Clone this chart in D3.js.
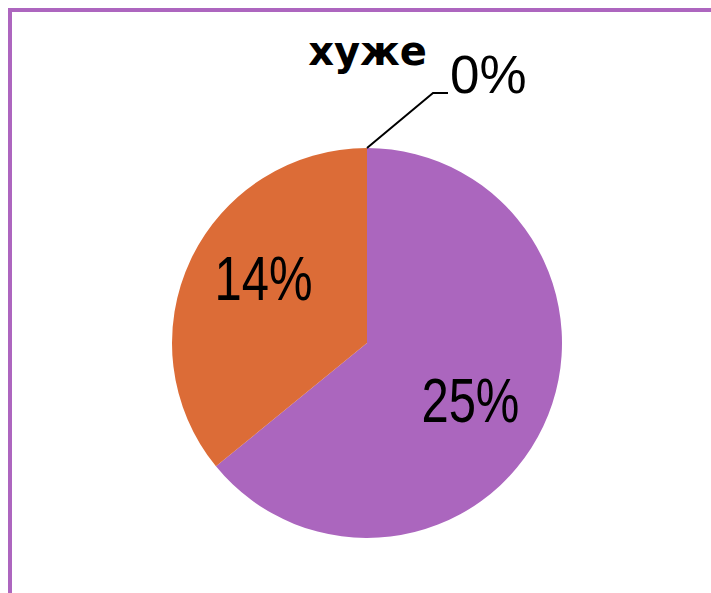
<!DOCTYPE html>
<html>
<head>
<meta charset="utf-8">
<script src="https://cdn.jsdelivr.net/npm/d3@7"></script>
<style>
  body { margin: 0; background: #fff; }
  .pct { font-family: 'Liberation Sans', sans-serif; fill: #000; }
  .cat { font-family: 'DejaVu Sans', sans-serif; font-weight: bold; fill: #000; }
</style>
</head>
<body>
<svg width="711" height="593"></svg>
<script>
// data
var categories = ['', '', 'хуже'];
var values = [25, 14, 0];
var labels = ['25%', '14%', '0%'];
var colors = ['#ab66be', '#dc6c37', '#8fb04f'];

var svg = d3.select('svg');
var width = +svg.attr('width'), height = +svg.attr('height');

// purple frame (left + top visible, rest off-canvas)
svg.append('rect')
  .attr('x', 10).attr('y', 10)
  .attr('width', width + 20).attr('height', height + 20)
  .attr('fill', '#fff')
  .attr('stroke', '#ad66bf')
  .attr('stroke-width', 4);

var cx = 367, cy = 343, radius = 195;

var pie = d3.pie().sort(null).value(function(d) { return d; });
var arcs = pie(values);

var arc = d3.arc().innerRadius(0).outerRadius(radius);
var labelArc = d3.arc().innerRadius(120).outerRadius(120);

var g = svg.append('g')
  .attr('transform', 'translate(' + cx + ',' + cy + ')');

g.selectAll('path.slice')
  .data(arcs)
  .enter().append('path')
    .attr('class', 'slice')
    .attr('d', arc)
    .attr('fill', function(d, i) { return colors[i]; });

// labels inside the non-zero slices (narrow, like the original font)
var nudge = [[-5, 28], [5, 8]];
g.selectAll('text.inner')
  .data(arcs.filter(function(d) { return d.value > 0; }))
  .enter().append('text')
    .attr('class', 'pct inner')
    .attr('x', function(d) { return labelArc.centroid(d)[0] + nudge[d.index][0]; })
    .attr('y', function(d) { return labelArc.centroid(d)[1] + nudge[d.index][1]; })
    .attr('text-anchor', 'middle')
    .attr('textLength', 98)
    .attr('lengthAdjust', 'spacingAndGlyphs')
    .style('font-size', '63px')
    .text(function(d) { return labels[d.index]; });

// zero slice: callout with leader line
arcs.filter(function(d) { return d.value == 0; }).forEach(function(d) {
  var p0 = d3.arc().innerRadius(radius).outerRadius(radius).centroid(d);
  var elbow = [p0[0] + 66, p0[1] - 55];
  var end = [elbow[0] + 15, elbow[1]];
  g.append('polyline')
    .attr('points', [p0, elbow, end].map(function(p) { return p.join(','); }).join(' '))
    .attr('fill', 'none')
    .attr('stroke', '#000')
    .attr('stroke-width', 2);
  g.append('text')
    .attr('class', 'cat')
    .attr('x', end[0] - 21)
    .attr('y', elbow[1] - 28)
    .attr('text-anchor', 'end')
    .style('font-size', '40px')
    .text(categories[d.index]);
  g.append('text')
    .attr('class', 'pct')
    .attr('x', end[0] + 2)
    .attr('y', elbow[1])
    .style('font-size', '53px')
    .text(labels[d.index]);
});
</script>
</body>
</html>
